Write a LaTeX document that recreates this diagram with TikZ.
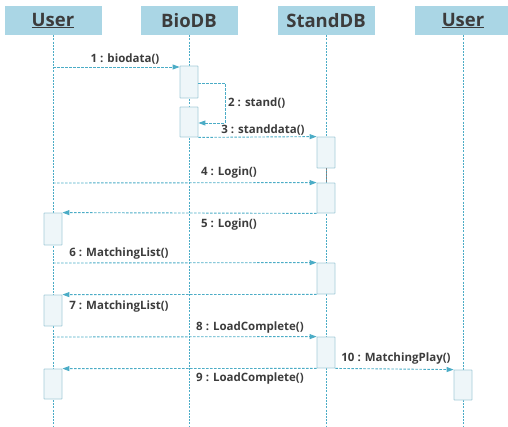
\documentclass[tikz,border=0pt]{standalone}
\usepackage{fontspec}
\setmainfont{Open Sans}
\usetikzlibrary{arrows.meta}
\definecolor{hdr}{HTML}{AAD6E5}
\definecolor{life}{HTML}{4BACC6}
\definecolor{actfill}{HTML}{EEF6F9}
\definecolor{actdraw}{HTML}{A5CCD9}
\definecolor{txt}{HTML}{3C3C3C}
\begin{document}
\begin{tikzpicture}[x=1pt,y=-1pt,
  header/.style={fill=hdr,draw=none,minimum width=97pt,minimum height=29pt,inner sep=0pt,
    font=\fontsize{18.5}{20}\selectfont\bfseries,text=txt},
  lifeline/.style={draw=life,line width=0.8pt,dash pattern=on 2pt off 1.2pt},
  act/.style={fill=actfill,draw=actdraw,line width=0.8pt,minimum width=18pt,inner sep=0pt,rounded corners=0.5pt},
  msg/.style={draw=life,line width=0.9pt,dash pattern=on 2.5pt off 1.5pt,
    -{Triangle[length=7pt,width=5pt,fill=life]}},
  lbl/.style={font=\fontsize{11.5}{13}\selectfont\bfseries,text=txt,inner sep=0pt}]
\useasboundingbox (0,0) rectangle (508,426);
% headers
\node[header] (hU) at (53,20.5) {\underline{User}};
\node[header] (hB) at (189,20.5) {BioDB};
\node[header] (hS) at (326,20.5) {StandDB};
\node[header] (hU2) at (463,20.5) {\underline{User}};
% lifeline ends
\coordinate (eU) at (53,426);
\coordinate (eB) at (189,426);
\coordinate (eS) at (326,426);
\coordinate (eU2) at (463,426);
\draw[lifeline] (hU.south) -- (eU);
\draw[lifeline] (hB.south) -- (eB);
\draw[lifeline] (hS.south) -- (eS);
\draw[lifeline] (hU2.south) -- (eU2);
% activations
\node[act,minimum height=32pt] (bA1) at (189,82) {};
\node[act,minimum height=30pt] (bA2) at (189,122) {};
\node[act,minimum height=31pt] (sA1) at (326,152.5) {};
\node[act,minimum height=30pt] (sA2) at (326,198) {};
\node[act,minimum height=31pt] (sA3) at (326,278.5) {};
\node[act,minimum height=31pt] (sA4) at (326,352.5) {};
\node[act,minimum height=32pt] (uA1) at (53,229) {};
\node[act,minimum height=31pt] (uA2) at (53,310.5) {};
\node[act,minimum height=30pt] (uA3) at (53,384) {};
\node[act,minimum height=30pt] (u2A) at (463,385) {};
\draw[gray,line width=0.8pt,dash pattern=on 1.5pt off 1.5pt] (sA1.south) -- (sA2.north);
% message start points on lifelines
\coordinate (m1) at (53,67);
\coordinate (m4) at (53,183);
\coordinate (m6) at (53,263);
\coordinate (m8) at (53,337);
\coordinate (s2a) at (225,83);
\coordinate (s2b) at (225,123);
% messages
\draw[msg] (m1) -- (m1 -| bA1.west);
\draw[msg] (bA1.east |- s2a) -- (s2a) -- (s2b) -- (bA2.east |- s2b);
\draw[msg] (bA2.south east) -- (sA1.north west);
\draw[msg] (m4) -- (sA2.north west);
\draw[msg] (sA2.south west) -- (uA1.north east);
\draw[msg] (m6) -- (sA3.north west);
\draw[msg] (sA3.south west) -- (uA2.north east);
\draw[msg] (m8) -- (sA4.north west);
\draw[msg] (sA4.south west) -- (uA3.north east);
\draw[msg] (sA4.south east) -- (u2A.north west);
% labels
\node[lbl] (l1) at (125,59) {1 : biodata()};
\node[lbl,anchor=west] (l2) at (228,103) {2 : stand()};
\node[lbl] (l3) at (263,130) {3 : standdata()};
\node[lbl] (l4) at (229,173) {4 : Login()};
\node[lbl] (l5) at (229,225) {5 : Login()};
\node[lbl] (l6) at (119,254) {6 : MatchingList()};
\node[lbl] (l7) at (119,307) {7 : MatchingList()};
\node[lbl] (l8) at (250,328) {8 : LoadComplete()};
\node[lbl] (l9) at (250,379) {9 : LoadComplete()};
\node[lbl] (l10) at (396,359) {10 : MatchingPlay()};
\end{tikzpicture}
\end{document}
